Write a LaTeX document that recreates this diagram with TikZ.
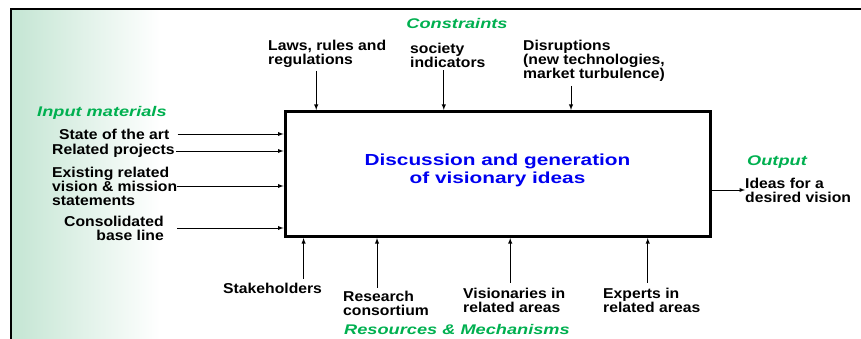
\documentclass[tikz,border=0pt]{standalone}
\usepackage{fontspec}
\setmainfont[FakeStretch=1.1]{Liberation Sans}
\newfontfamily\widefont[FakeStretch=1.3]{Liberation Sans}
\usepackage{tikz}
\usetikzlibrary{calc,arrows}
\definecolor{idefgreen}{RGB}{0,176,80}
\definecolor{idefblue}{RGB}{0,0,240}
\definecolor{paleshade}{RGB}{196,229,211}

\begin{document}
\begin{tikzpicture}[x=1pt,y=-1pt,
    lbl/.style={font=\bfseries\fontsize{14.3}{14}\selectfont,inner sep=0pt,align=left},
    grp/.style={font=\widefont\bfseries\itshape\fontsize{14}{14}\selectfont,text=idefgreen,inner sep=0pt},
    flow/.style={-latex,line width=0.9pt}]
  \useasboundingbox (0,0) rectangle (861,339);
  \shade[left color=paleshade,right color=white] (11,9) rectangle (160,339);
  \draw[line width=2.5pt] (11,339) -- (11,9) -- (861,9);

  \node[draw,line width=3pt,minimum width=425pt,minimum height=125pt](box)at(497.5,174){};
  \node[font=\widefont\bfseries\fontsize{16}{18}\selectfont,text=idefblue,align=center,inner sep=0pt](title)at(497.5,170){Discussion and generation\\of visionary ideas};

  \node[grp](constraints)at(457,23){Constraints};
  \node[lbl,anchor=west](laws)at(268,54){Laws, rules and\\regulations};
  \node[lbl,anchor=west](society)at(410,55){society\\indicators};
  \node[lbl,anchor=west](disrupt)at(523,61){Disruptions\\(new technologies,\\market turbulence)};
  \draw[flow] (laws.south) ++(-11,3) coordinate (c1) -- (c1 |- box.north);
  \draw[flow] (society.south) ++(-4,3) coordinate (c2) -- (c2 |- box.north);
  \draw[flow] (disrupt.south) ++(-23,4) coordinate (c3) -- (c3 |- box.north);

  \node[grp,anchor=west](inputs)at(37,113){Input materials};
  \node[lbl,anchor=west](state)at(59,134){State of the art};
  \node[lbl,anchor=west](related)at(52,151){Related projects};
  \node[lbl,anchor=west](existing)at(52,186){Existing related\\vision \& mission\\statements};
  \node[lbl,anchor=east,align=right](consol)at(164,228){Consolidated\\base line};
  \draw[flow] ([xshift=8pt]state.east) -- (state.east -| box.west);
  \draw[flow] ([xshift=1pt]related.east) -- (related.east -| box.west);
  \draw[flow] (existing.east) -- (existing.east -| box.west);
  \draw[flow] ([xshift=13pt]consol.east) -- (consol.east -| box.west);

  \node[grp,anchor=west](output)at(747,162){Output};
  \node[lbl,anchor=west](ideas)at(745,190){Ideas for a\\desired vision};
  \draw[flow] (box.east |- ideas.west) -- (ideas.west);

  \node[lbl,anchor=west](stake)at(223,288){Stakeholders};
  \node[lbl,anchor=west](research)at(343,303){Research\\consortium};
  \node[lbl,anchor=west](vision)at(463,300){Visionaries in\\related areas};
  \node[lbl,anchor=west](experts)at(603,300){Experts in\\related areas};
  \node[grp](resources)at(457,329){Resources \& Mechanisms};
  \draw[flow] (stake.north) ++(31,-4) coordinate (c4) -- (c4 |- box.south);
  \draw[flow] (research.north) ++(-9,-3) coordinate (c5) -- (c5 |- box.south);
  \draw[flow] (vision.north) ++(-4,-5) coordinate (c6) -- (c6 |- box.south);
  \draw[flow] (experts.north) ++(-4,-5) coordinate (c7) -- (c7 |- box.south);
\end{tikzpicture}
\end{document}
